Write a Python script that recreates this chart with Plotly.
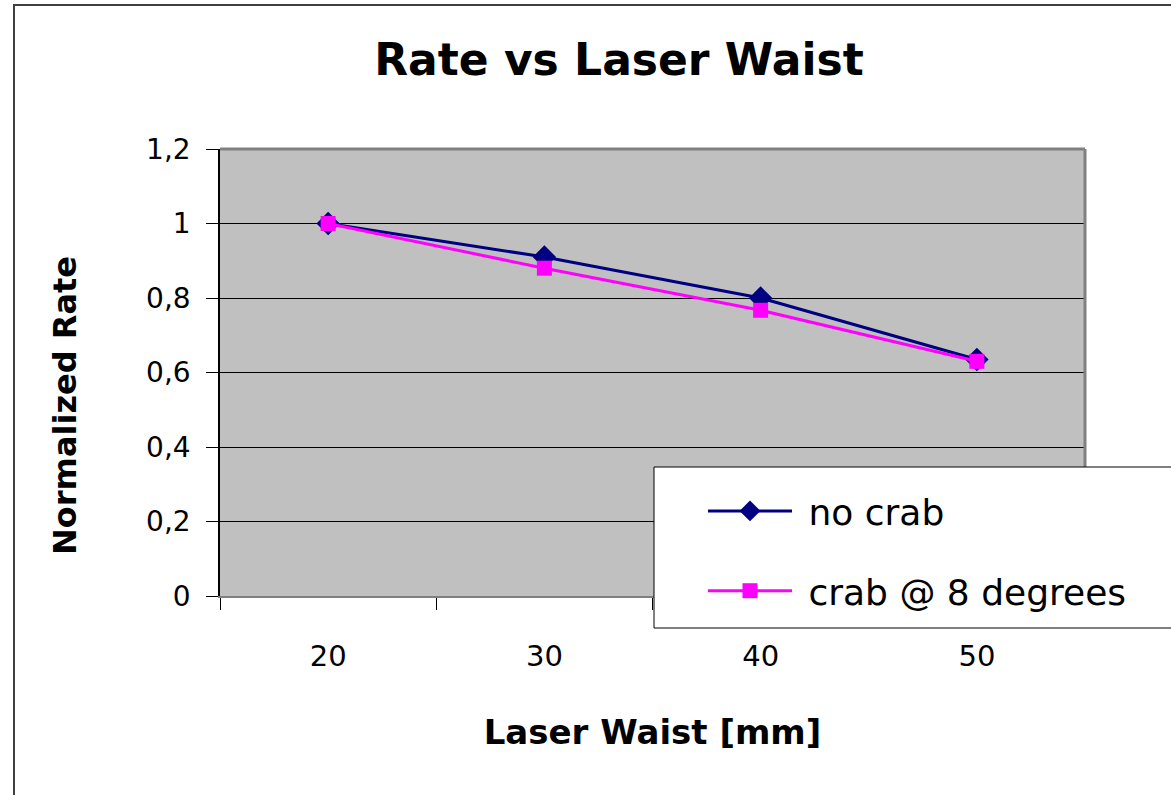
import plotly.graph_objects as go

categories = ["20", "30", "40", "50"]
no_crab = [1.0, 0.91, 0.80, 0.635]
crab_8deg = [1.0, 0.88, 0.767, 0.63]
y_ticks = [0, 0.2, 0.4, 0.6, 0.8, 1.0, 1.2]
y_tick_text = ["0", "0,2", "0,4", "0,6", "0,8", "1", "1,2"]

FONT = "DejaVu Sans"

fig = go.Figure()
fig.add_trace(go.Scatter(
    x=categories, y=no_crab, name="\u00a0no crab", mode="lines+markers",
    line=dict(color="#000080", width=3),
    marker=dict(symbol="diamond", size=18, color="#000080"),
    legendgroup="a",
))
fig.add_trace(go.Scatter(
    x=categories, y=crab_8deg, name="\u00a0crab @ 8 degrees", mode="lines+markers",
    line=dict(color="#FF00FF", width=3),
    marker=dict(symbol="square", size=15, color="#FF00FF"),
    legendgroup="b",
))

W, H = 1171, 795
L, R, T, B = 220, 1085, 149, 596

def px(xp):
    return (xp - L) / (R - L)

def py(yp):
    return (B - yp) / (B - T)

fig.update_layout(
    width=W, height=H,
    margin=dict(l=L, r=W - R, t=T, b=H - B, pad=0),
    paper_bgcolor="white", plot_bgcolor="#C0C0C0",
    font=dict(family=FONT, color="black", size=28),
    title=dict(text="<b>Rate vs Laser Waist</b>", x=619 / W, xanchor="center",
               y=1 - 60 / H, yanchor="middle", font=dict(size=44, family=FONT)),
    xaxis=dict(
        type="category", range=[-0.5, 3.5], tickson="boundaries",
        ticks="outside", ticklen=12, tickcolor="black", tickwidth=1,
        showgrid=False, showline=True, linecolor="#808080", linewidth=2,
        tickfont=dict(size=29), ticklabelstandoff=33,
        title=dict(text="<b>Laser Waist [mm]</b>", font=dict(size=34), standoff=48),
    ),
    yaxis=dict(
        range=[0, 1.2], tickvals=y_ticks, ticktext=y_tick_text,
        ticks="outside", ticklen=12, tickcolor="black", tickwidth=1,
        showgrid=True, gridcolor="black", gridwidth=1,
        showline=True, linecolor="black", linewidth=1.5,
        zeroline=False, tickfont=dict(size=28), ticklabelstandoff=10,
    ),
    annotations=[
        dict(text="<b>Normalized Rate</b>", textangle=-90, xref="paper", yref="paper",
             x=px(65), y=py(406), xanchor="center", yanchor="middle",
             showarrow=False, font=dict(size=32, family=FONT)),
    ],
    showlegend=True,
    legend=dict(
        x=px(703), xanchor="left",
        y=py(481), yanchor="top",
        bgcolor="rgba(0,0,0,0)", borderwidth=0,
        font=dict(size=36, family=FONT), traceorder="grouped",
        tracegroupgap=30, itemwidth=84,
    ),
    shapes=[
        dict(type="line", xref="paper", yref="paper", x0=0, x1=1, y0=1, y1=1,
             line=dict(color="#808080", width=3), layer="above"),
        dict(type="line", xref="paper", yref="paper", x0=1, x1=1, y0=0, y1=1,
             line=dict(color="#808080", width=3), layer="above"),
        dict(type="rect", xref="paper", yref="paper",
             x0=px(14), x1=px(W + 10), y0=py(H + 10), y1=py(5),
             line=dict(color="#404040", width=2), layer="below"),
        dict(type="rect", xref="paper", yref="paper",
             x0=px(654), x1=px(W + 10), y0=py(628), y1=py(467),
             fillcolor="white", line=dict(color="black", width=1), layer="above"),
    ],
)

fig.write_html("out.html")
